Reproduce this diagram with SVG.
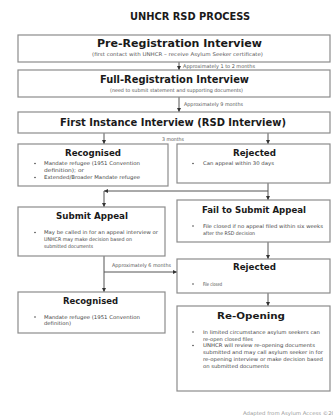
<svg xmlns="http://www.w3.org/2000/svg" width="333" height="417" viewBox="0 0 333 417">
<style>
.box{fill:#fff;stroke:#8c8c8c;stroke-width:1.2}
.t{font-family:"DejaVu Sans Condensed","DejaVu Sans",sans-serif;font-weight:bold;fill:#1a1a1a}
.s{font-family:"DejaVu Sans Condensed","DejaVu Sans",sans-serif;font-size:5px;fill:#555}
.b{font-family:"DejaVu Sans Condensed","DejaVu Sans",sans-serif;font-size:5px;fill:#444}
.c{fill:none;stroke:#555;stroke-width:1}
.dot{fill:#444}
</style>
<defs>
<marker id="ah" viewBox="0 0 6 6" refX="6" refY="3" markerWidth="4" markerHeight="4" orient="auto">
<path d="M0,0L6,3L0,6z" fill="#333"/>
</marker>
</defs>
<rect width="333" height="417" fill="#fff"/>
<text class="t" x="130" y="20" font-size="10" textLength="120" lengthAdjust="spacingAndGlyphs">UNHCR RSD PROCESS</text>

<g id="connectors">
<path class="c" d="M179,62V70" marker-end="url(#ah)"/>
<path class="c" d="M179,97V112" marker-end="url(#ah)"/>
<path class="c" d="M104,133V144" marker-end="url(#ah)"/>
<path class="c" d="M268,133V144" marker-end="url(#ah)"/>
<path class="c" d="M268,183V200" marker-end="url(#ah)"/>
<path class="c" d="M268,191H104" marker-end="url(#ah)"/>
<path class="c" d="M104,191V207" marker-end="url(#ah)"/>
<path class="c" d="M104,256V292" marker-end="url(#ah)"/>
<path class="c" d="M104,272H177" marker-end="url(#ah)"/>
<path class="c" d="M268,242V259" marker-end="url(#ah)"/>
<path class="c" d="M268,293V306" marker-end="url(#ah)"/>
<text class="s" x="183" y="68" textLength="72" lengthAdjust="spacingAndGlyphs">Approximately 1 to 2 months</text>
<text class="s" x="184" y="106" textLength="59" lengthAdjust="spacingAndGlyphs">Approximately 9 months</text>
<text class="s" x="162" y="141" textLength="22" lengthAdjust="spacingAndGlyphs">3 months</text>
<text class="s" x="112" y="267" textLength="59" lengthAdjust="spacingAndGlyphs">Approximately 6 months</text>
</g>

<g id="pre-registration">
<rect class="box" x="18" y="35" width="312" height="27"/>
<text class="t" x="97" y="47" font-size="10" textLength="165" lengthAdjust="spacingAndGlyphs">Pre-Registration Interview</text>
<text class="s" x="92" y="56" textLength="171" lengthAdjust="spacingAndGlyphs">(first contact with UNHCR – receive Asylum Seeker certificate)</text>
</g>

<g id="full-registration">
<rect class="box" x="18" y="70" width="312" height="27"/>
<text class="t" x="100" y="83" font-size="10" textLength="149" lengthAdjust="spacingAndGlyphs">Full-Registration Interview</text>
<text class="s" x="110" y="92" textLength="133" lengthAdjust="spacingAndGlyphs">(need to submit statement and supporting documents)</text>
</g>

<g id="first-instance">
<rect class="box" x="18" y="112" width="312" height="21"/>
<text class="t" x="60" y="126" font-size="10.5" textLength="226" lengthAdjust="spacingAndGlyphs">First Instance Interview (RSD Interview)</text>
</g>

<g id="recognised-1">
<rect class="box" x="18" y="144" width="150" height="42"/>
<text class="t" x="65" y="156" font-size="9" textLength="56" lengthAdjust="spacingAndGlyphs">Recognised</text>
<circle class="dot" cx="35" cy="163.5" r="0.8"/>
<text class="b" x="44" y="165" textLength="96" lengthAdjust="spacingAndGlyphs">Mandate refugee (1951 Convention</text>
<text class="b" x="44" y="172" textLength="40" lengthAdjust="spacingAndGlyphs">definition); or</text>
<circle class="dot" cx="35" cy="177.5" r="0.8"/>
<text class="b" x="44" y="179" textLength="96" lengthAdjust="spacingAndGlyphs">Extended/Broader Mandate refugee</text>
</g>

<g id="rejected-1">
<rect class="box" x="177" y="144" width="153" height="39"/>
<text class="t" x="233" y="156" font-size="9" textLength="43" lengthAdjust="spacingAndGlyphs">Rejected</text>
<circle class="dot" cx="193" cy="163.5" r="0.8"/>
<text class="b" x="203" y="165" textLength="71" lengthAdjust="spacingAndGlyphs">Can appeal within 30 days</text>
</g>

<g id="submit-appeal">
<rect class="box" x="18" y="207" width="147" height="49"/>
<text class="t" x="56" y="219" font-size="9" textLength="72" lengthAdjust="spacingAndGlyphs">Submit Appeal</text>
<circle class="dot" cx="35" cy="232.5" r="0.8"/>
<text class="b" x="44" y="234" textLength="114" lengthAdjust="spacingAndGlyphs">May be called in for an appeal interview or</text>
<text class="b" x="44" y="241" textLength="88" lengthAdjust="spacingAndGlyphs">UNHCR may make decision based on</text>
<text class="b" x="44" y="248" textLength="49" lengthAdjust="spacingAndGlyphs">submitted documents</text>
</g>

<g id="fail-to-submit">
<rect class="box" x="177" y="200" width="153" height="42"/>
<text class="t" x="202" y="213" font-size="9" textLength="104" lengthAdjust="spacingAndGlyphs">Fail to Submit Appeal</text>
<circle class="dot" cx="193" cy="226" r="0.8"/>
<text class="b" x="203" y="227.5" textLength="120" lengthAdjust="spacingAndGlyphs">File closed if no appeal filed within six weeks</text>
<text class="b" x="203" y="234.5" textLength="52" lengthAdjust="spacingAndGlyphs">after the RSD decision</text>
</g>

<g id="rejected-2">
<rect class="box" x="177" y="259" width="153" height="34"/>
<text class="t" x="233" y="270" font-size="9" textLength="43" lengthAdjust="spacingAndGlyphs">Rejected</text>
<circle class="dot" cx="193" cy="284" r="0.8"/>
<text class="b" x="203" y="285.5" textLength="19" lengthAdjust="spacingAndGlyphs">File closed</text>
</g>

<g id="recognised-2">
<rect class="box" x="18" y="292" width="147" height="41"/>
<text class="t" x="63" y="304" font-size="9" textLength="55" lengthAdjust="spacingAndGlyphs">Recognised</text>
<circle class="dot" cx="35" cy="317" r="0.8"/>
<text class="b" x="44" y="318.5" textLength="96" lengthAdjust="spacingAndGlyphs">Mandate refugee (1951 Convention</text>
<text class="b" x="44" y="325" textLength="27" lengthAdjust="spacingAndGlyphs">definition)</text>
</g>

<g id="re-opening">
<rect class="box" x="177" y="306" width="153" height="85"/>
<text class="t" x="217" y="319" font-size="9" textLength="68" lengthAdjust="spacingAndGlyphs">Re-Opening</text>
<circle class="dot" cx="193" cy="332" r="0.8"/>
<text class="b" x="203" y="333.5" textLength="117" lengthAdjust="spacingAndGlyphs">In limited circumstance asylum seekers can</text>
<text class="b" x="203" y="340.5" textLength="50" lengthAdjust="spacingAndGlyphs">re-open closed files</text>
<circle class="dot" cx="193" cy="345.5" r="0.8"/>
<text class="b" x="203" y="347" textLength="112" lengthAdjust="spacingAndGlyphs">UNHCR will review re-opening documents</text>
<text class="b" x="203" y="354" textLength="120" lengthAdjust="spacingAndGlyphs">submitted and may call asylum seeker in for</text>
<text class="b" x="203" y="361" textLength="120" lengthAdjust="spacingAndGlyphs">re-opening interview or make decision based</text>
<text class="b" x="203" y="368" textLength="66" lengthAdjust="spacingAndGlyphs">on submitted documents</text>
</g>

<text class="s" x="243" y="415" fill="#999" style="fill:#999" textLength="92" lengthAdjust="spacingAndGlyphs">Adapted from Asylum Access ©20</text>
</svg>
